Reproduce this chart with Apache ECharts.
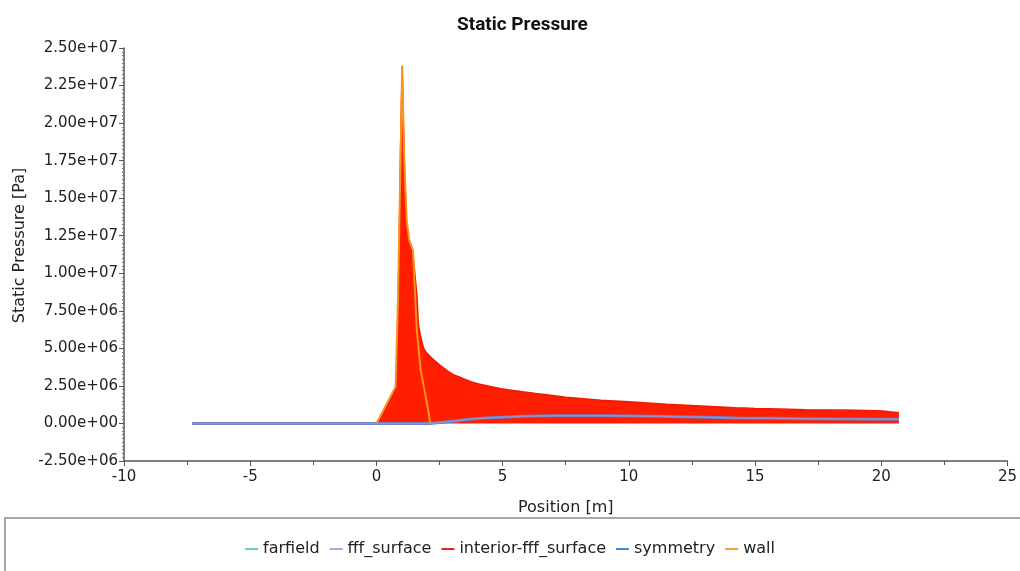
<!DOCTYPE html>
<html>
<head>
<meta charset="utf-8">
<script src="https://cdn.jsdelivr.net/npm/echarts@6/dist/echarts.min.js"></script>
<style>
  html, body { margin: 0; padding: 0; background: #fff; }
  #chart { width: 1020px; height: 571px; }
</style>
</head>
<body>
<div id="chart"></div>
<script>
// positions in m, pressures in units of 1e6 Pa
const interiorPos = [-7.3, 0, 0.4, 0.75, 0.85, 0.95, 1.02, 1.09, 1.2, 1.3, 1.42, 1.52, 1.61, 1.67, 1.87, 2.1, 2.5, 3.0, 3.8, 5.0, 6.3, 7.5, 8.9, 10, 11.5, 14.2, 15, 17, 19.9, 20.7];
const interiorP = [0, 0, 1.1, 2.3, 6.5, 17.5, 23.8, 18.2, 13.0, 12.2, 11.6, 10.0, 8.4, 6.5, 5.0, 4.5, 3.9, 3.3, 2.75, 2.3, 2.0, 1.75, 1.55, 1.45, 1.28, 1.05, 1.0, 0.92, 0.85, 0.72];

const symmetryPos = [-7.3, 0, 2.1, 2.4, 3.0, 3.7, 4.5, 5.9, 7, 8.3, 10, 12, 14.2, 17, 20.4, 20.7];
const symmetryP = [0, 0, 0, 0.05, 0.15, 0.28, 0.38, 0.48, 0.51, 0.52, 0.5, 0.45, 0.37, 0.32, 0.28, 0.28];

const wallPos = [0, 0.76, 0.85, 0.95, 1.02, 1.09, 1.2, 1.3, 1.45, 1.6, 1.75, 2.05, 2.13];
const wallP = [0, 2.45, 8.0, 17.0, 23.8, 18.2, 13.5, 12.2, 11.5, 6.2, 3.6, 0.9, 0];

const farfieldPos = [-7.3, 0];
const farfieldP = [0, 0];

const seriesNames = ['farfield', 'fff_surface', 'interior-fff_surface', 'symmetry', 'wall'];

const pts = (xs, ys) => xs.map((x, i) => [x, ys[i] * 1e6]);

function fmtExp(v) {
  let s = v.toExponential(2);
  return s.replace(/e([+-])(\d)$/, 'e$10$2');
}

const FONT = 'DejaVu Sans';
const chart = echarts.init(document.getElementById('chart'));
chart.setOption({
  animation: false,
  backgroundColor: '#fff',
  title: {
    text: 'Static Pressure',
    left: 452,
    top: 11,
    textStyle: { fontFamily: 'Roboto', fontWeight: 'bold', fontSize: 19, color: '#111' }
  },
  graphic: [{
    type: 'rect',
    shape: { x: 5, y: 518, width: 1030, height: 70 },
    style: { fill: 'none', stroke: '#8a8a8a', lineWidth: 1.5 },
    z: -1
  }],
  legend: {
    bottom: 9,
    left: 'center',
    icon: 'rect',
    itemWidth: 13,
    itemHeight: 2,
    itemGap: 10,
    textStyle: { fontFamily: FONT, fontSize: 16, color: '#222' },
    data: seriesNames
  },
  grid: { left: 124, right: 2, top: 48, bottom: 110 },
  xAxis: {
    type: 'value',
    min: -10,
    max: 25,
    interval: 5,
    name: 'Position [m]',
    nameLocation: 'middle',
    nameGap: 39,
    nameTextStyle: { fontFamily: FONT, fontSize: 16, color: '#222' },
    axisLine: { onZero: false, lineStyle: { color: '#555', width: 1.5 } },
    axisTick: { length: 5, lineStyle: { color: '#555' } },
    minorTick: { show: true, splitNumber: 2, length: 4, lineStyle: { color: '#555' } },
    axisLabel: { fontFamily: FONT, fontSize: 15, color: '#222', margin: 9 },
    splitLine: { show: false }
  },
  yAxis: {
    type: 'value',
    min: -2.5e6,
    max: 2.5e7,
    interval: 2.5e6,
    name: 'Static Pressure [Pa]',
    nameLocation: 'middle',
    nameGap: 96,
    nameTextStyle: { fontFamily: FONT, fontSize: 16, color: '#222', padding: [0, 0, 0, 18] },
    axisLine: { show: true, onZero: false, lineStyle: { color: '#555', width: 1.5 } },
    axisTick: { show: true, length: 5, lineStyle: { color: '#555' } },
    minorTick: { show: true, splitNumber: 10, length: 2, lineStyle: { color: '#777' } },
    axisLabel: { fontFamily: FONT, fontSize: 15, color: '#222', margin: 6, formatter: fmtExp },
    splitLine: { show: false }
  },
  series: [
    {
      name: 'farfield',
      type: 'line',
      showSymbol: false,
      itemStyle: { color: '#5fd3b4' },
      lineStyle: { width: 2 },
      data: pts(farfieldPos, farfieldP)
    },
    {
      name: 'fff_surface',
      type: 'line',
      showSymbol: false,
      smooth: 0.3,
      z: 4,
      itemStyle: { color: '#b0a6e6' },
      lineStyle: { width: 1.5, opacity: 0.5 },
      data: pts(symmetryPos, symmetryP)
    },
    {
      name: 'interior-fff_surface',
      type: 'line',
      showSymbol: false,
      smooth: 0.15,
      itemStyle: { color: '#e8231f' },
      lineStyle: { width: 1.5, color: '#f01a00' },
      areaStyle: { color: '#ff1e00', opacity: 1 },
      data: pts(interiorPos, interiorP)
    },
    {
      name: 'symmetry',
      type: 'line',
      showSymbol: false,
      smooth: 0.3,
      z: 3,
      itemStyle: { color: '#3c8ed8' },
      lineStyle: { width: 3, color: '#6a7ec2' },
      data: pts(symmetryPos, symmetryP)
    },
    {
      name: 'wall',
      type: 'line',
      showSymbol: false,
      z: 5,
      itemStyle: { color: '#f5a030' },
      lineStyle: { width: 2, color: '#f7941d' },
      data: pts(wallPos, wallP)
    }
  ]
});
</script>
</body>
</html>
